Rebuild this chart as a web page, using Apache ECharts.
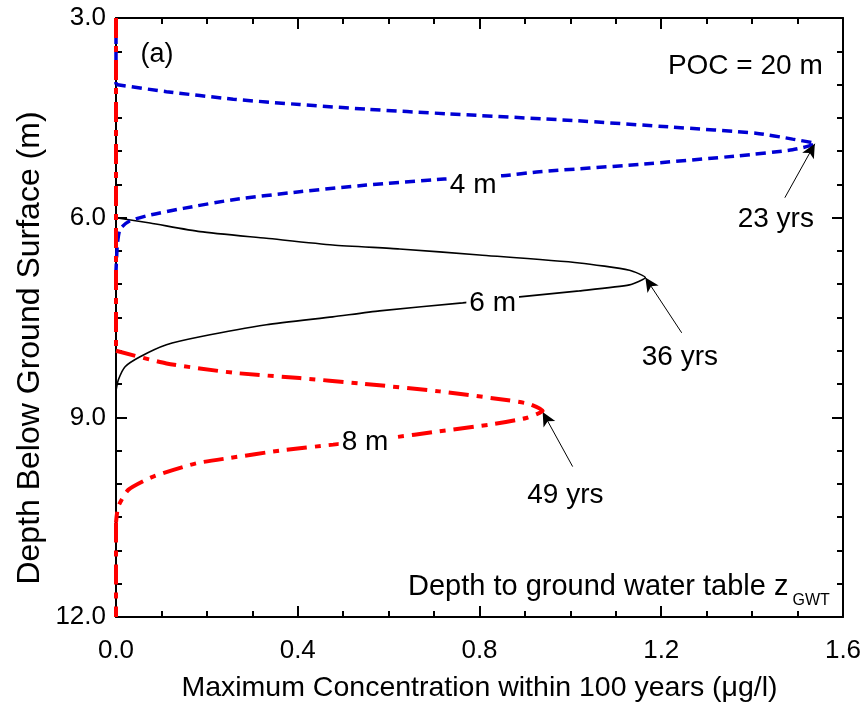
<!DOCTYPE html>
<html>
<head>
<meta charset="utf-8">
<script src="https://cdn.jsdelivr.net/npm/echarts@6/dist/echarts.min.js"></script>
<style>
  html, body { margin: 0; padding: 0; background: #fff; }
  #chart { width: 868px; height: 705px; }
</style>
</head>
<body>
<div id="chart"></div>
<script>
// concentration (ug/l) vs depth (m), one set per POC depth
// flat parts (zero concentration) along the left axis
var zero4m = [[0,3.0],[0,4.0]];
var zero6mTop = [[0,3.0],[0,6.0]];
var zero6mBottom = [[0,8.6],[0,12]];
var zero8mTop = [[0,3.0],[0,8.0]];
var zero8mBottom = [[0,10.58],[0,12]];
// the peaks
var curve4m = [[0,4.0],[0.111,4.107],[0.258,4.22],[0.404,4.30],[0.551,4.37],[0.73,4.44],[1.005,4.54],[1.225,4.64],[1.408,4.73],[1.489,4.82],[1.538,4.89],[1.489,4.98],[1.371,5.07],[1.152,5.20],[0.932,5.31],[0.851,5.37],[0.722,5.42],[0.551,5.51],[0.404,5.61],[0.258,5.73],[0.148,5.86],[0.075,5.96],[0.03,6.05],[0.009,6.17],[0.003,6.4],[0,6.8]];
var curve6m = [[0,6.0],[0.075,6.08],[0.185,6.21],[0.331,6.31],[0.477,6.41],[0.624,6.47],[0.80,6.56],[1.02,6.68],[1.13,6.79],[1.165,6.9],[1.13,7.01],[1.02,7.10],[0.888,7.19],[0.763,7.28],[0.58,7.40],[0.477,7.49],[0.331,7.61],[0.185,7.79],[0.111,7.91],[0.053,8.09],[0.020,8.24],[0.005,8.44],[0,8.6]];
var curve8m = [[0,8.0],[0.111,8.19],[0.258,8.33],[0.404,8.41],[0.536,8.49],[0.712,8.61],[0.859,8.74],[0.91,8.80],[0.939,8.90],[0.903,9.01],[0.822,9.11],[0.712,9.21],[0.602,9.31],[0.478,9.41],[0.36,9.50],[0.251,9.61],[0.177,9.69],[0.082,9.89],[0.027,10.09],[0.005,10.34],[0,10.58]];

// peak arrows: [tail, tip]
var arrows = [
  [[1.472, 5.70], [1.538, 4.89]],
  [[1.245, 7.73], [1.165, 6.90]],
  [[1.005, 9.74], [0.939, 8.92]]
];

// text notes placed at data coordinates
var notes = [
  {text: '(a)', at: [0.09, 3.55], bg: false, size: 27},
  {text: 'POC = 20 m', at: [1.385, 3.72], bg: false, size: 28},
  {text: '4 m', at: [0.786, 5.51], bg: true, size: 28},
  {text: '6 m', at: [0.829, 7.29], bg: true, size: 28},
  {text: '8 m', at: [0.548, 9.38], bg: true, size: 28},
  {text: '23 yrs', at: [1.452, 6.03], bg: false, size: 28},
  {text: '36 yrs', at: [1.241, 8.10], bg: false, size: 28},
  {text: '49 yrs', at: [0.989, 10.17], bg: false, size: 28}
];

var xTitle = 'Maximum Concentration within 100 years (\u03bcg/l)';
var yTitle = 'Depth Below Ground Surface (m)';
var caption = 'Depth to ground water table z';
var captionSub = 'GWT';

var FONT = 'Liberation Sans, Arial, sans-serif';
var FS = 26;

var dom = document.getElementById('chart');
var myChart = echarts.init(dom);

function axisCommon(showLabel) {
  return {
    axisLine: { show: true, onZero: false, lineStyle: { color: '#000', width: 2 } },
    axisTick: { show: true, inside: true, length: 11, lineStyle: { color: '#000', width: 2 } },
    minorTick: { show: true, length: 6, lineStyle: { color: '#000', width: 2 } },
    splitLine: { show: false },
    axisLabel: { show: showLabel, color: '#000', fontSize: FS, fontFamily: FONT }
  };
}

var xMain = Object.assign(axisCommon(true), {
  type: 'value', position: 'bottom', min: 0, max: 1.6, interval: 0.4,
  axisLabel: { show: true, color: '#000', fontSize: FS, fontFamily: FONT, margin: 21,
    formatter: function (v) { return v.toFixed(1); } }
});
xMain.minorTick.splitNumber = 4;
var xTop = Object.assign(axisCommon(false), {
  type: 'value', position: 'top', min: 0, max: 1.6, interval: 0.4
});
xTop.minorTick.splitNumber = 4;

var yMain = Object.assign(axisCommon(true), {
  type: 'value', position: 'left', inverse: true, min: 3, max: 12, interval: 3,
  axisLabel: { show: true, color: '#000', fontSize: FS, fontFamily: FONT, margin: 10,
    formatter: function (v) { return v.toFixed(1); } }
});
yMain.minorTick.splitNumber = 6;
var yRight = Object.assign(axisCommon(false), {
  type: 'value', position: 'right', inverse: true, min: 3, max: 12, interval: 3
});
yRight.minorTick.splitNumber = 6;

var style4m = { color: '#0000d4', width: 3.5, type: [10, 6] };
var style6m = { color: '#000', width: 1.6 };
var style8m = { color: '#ff0000', width: 4, type: [20, 8, 6, 8] };

function line(name, data, lineStyle, z, smooth) {
  return {
    name: name, type: 'line', data: data, showSymbol: false, clip: false,
    smooth: smooth ? 0.2 : false, lineStyle: lineStyle, z: z
  };
}

var series = [
  line('6 m', zero6mTop, style6m, 3, false),
  line('6 m', curve6m, style6m, 3, true),
  line('6 m', zero6mBottom, style6m, 3, false),
  line('4 m', zero4m, style4m, 4, false),
  line('4 m', curve4m, style4m, 4, true),
  line('8 m', zero8mTop, style8m, 5, false),
  line('8 m', curve8m, style8m, 5, true),
  line('8 m', zero8mBottom, style8m, 5, false)
];
series[1].markLine = {
  silent: true, symbol: ['none', 'arrow'], symbolSize: [10, 14],
  label: { show: false },
  lineStyle: { color: '#000', width: 1, type: 'solid' },
  data: arrows.map(function (a) { return [{ coord: a[0] }, { coord: a[1] }]; })
};

var option = {
  animation: false,
  backgroundColor: '#fff',
  grid: { left: 116, right: 25, top: 18, bottom: 88, containLabel: false },
  xAxis: [xMain, xTop],
  yAxis: [yMain, yRight],
  series: series
};

myChart.setOption(option, true);

var graphics = notes.map(function (n) {
  var p = myChart.convertToPixel({ xAxisIndex: 0, yAxisIndex: 0 }, n.at);
  return {
    type: 'text', x: p[0], y: p[1], z: 100,
    style: {
      text: n.text, fill: '#000', font: n.size + 'px ' + FONT,
      align: 'center', verticalAlign: 'middle',
      backgroundColor: n.bg ? '#fff' : null, padding: n.bg ? [0, 3] : 0
    }
  };
});

// axis titles
graphics.push({
  type: 'text', x: 479.5, y: 688, z: 100,
  style: { text: xTitle, fill: '#000', font: '28.5px ' + FONT, align: 'center', verticalAlign: 'middle' }
});
graphics.push({
  type: 'text', x: 30, y: 348, rotation: Math.PI / 2, z: 100,
  style: { text: yTitle, fill: '#000', font: '32px ' + FONT, align: 'center', verticalAlign: 'middle' }
});

// bottom-right caption with subscript
var ctx = document.createElement('canvas').getContext('2d');
ctx.font = '29px ' + FONT;
var capW = ctx.measureText(caption).width;
graphics.push({
  type: 'text', x: 408, y: 572, z: 100,
  style: { text: caption, fill: '#000', font: '29px ' + FONT, align: 'left', verticalAlign: 'alphabetic' }
});
graphics.push({
  type: 'text', x: 408 + capW + 4, y: 593, z: 100,
  style: { text: captionSub, fill: '#000', font: '16px ' + FONT, align: 'left', verticalAlign: 'alphabetic' }
});

myChart.setOption({ graphic: graphics });
</script>
</body>
</html>
